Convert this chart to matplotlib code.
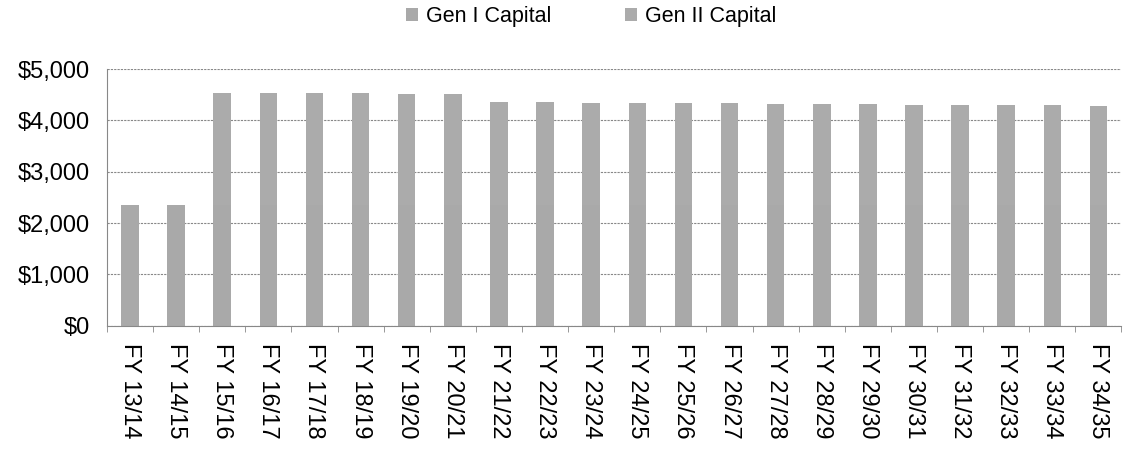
import matplotlib
matplotlib.use('Agg')
import matplotlib.pyplot as plt
import numpy as np
from matplotlib.ticker import FuncFormatter, FixedLocator

plt.rcParams['font.family'] = ['Liberation Sans', 'DejaVu Sans']

years = ['FY 13/14', 'FY 14/15', 'FY 15/16', 'FY 16/17', 'FY 17/18', 'FY 18/19',
         'FY 19/20', 'FY 20/21', 'FY 21/22', 'FY 22/23', 'FY 23/24', 'FY 24/25',
         'FY 25/26', 'FY 26/27', 'FY 27/28', 'FY 28/29', 'FY 29/30', 'FY 30/31',
         'FY 31/32', 'FY 32/33', 'FY 33/34', 'FY 34/35']
# Gen I capital (bottom) and Gen II capital (stacked on top)
gen1 = [2350, 2345, 2350, 2350, 2350, 2350, 2350, 2350, 2350, 2350, 2350,
        2350, 2350, 2350, 2350, 2350, 2350, 2350, 2350, 2350, 2350, 2350]
gen2 = [0, 0, 2190, 2185, 2180, 2175, 2170, 2155, 2010, 2000, 1995,
        1990, 1985, 1980, 1975, 1970, 1960, 1955, 1950, 1945, 1940, 1930]

fig = plt.figure(figsize=(11.26, 4.57), dpi=100)
ax = fig.add_axes([0.095, 0.287, 0.901, 0.562])

x = np.arange(len(years))
ax.bar(x, gen1, width=0.38, color='#a9a9a9', label='Gen I Capital', zorder=2)
ax.bar(x, gen2, width=0.38, bottom=gen1, color='#ababab', label='Gen II Capital', zorder=2)

ax.set_xlim(-0.5, len(years) - 0.5)
ax.set_ylim(0, 5000)
ax.set_yticks([0, 1000, 2000, 3000, 4000, 5000])
ax.yaxis.set_major_formatter(FuncFormatter(lambda v, p: '${:,.0f}'.format(v)))
ax.yaxis.grid(True, linestyle=(0, (2, 1)), color='#888888', linewidth=0.8, zorder=0)

ax.set_xticks(x)
ax.set_xticklabels(years, rotation=270, va='top', ha='center')
ax.tick_params(axis='x', which='major', length=0, pad=12, labelsize=17)
ax.xaxis.set_minor_locator(FixedLocator(np.arange(-0.5, len(years), 1)))
ax.tick_params(axis='x', which='minor', length=4, color='#888888', direction='out')
ax.tick_params(axis='y', length=0, pad=12, labelsize=17)

for s in ['top', 'right']:
    ax.spines[s].set_visible(False)
for s in ['left', 'bottom']:
    ax.spines[s].set_linestyle((0, (2, 1)))
    ax.spines[s].set_color('#888888')
    ax.spines[s].set_linewidth(0.8)

fig.legend(loc='upper center', bbox_to_anchor=(0.525, 1.03), ncol=2, frameon=False,
           fontsize=15.5, handlelength=0.55, handleheight=0.55, handletextpad=0.4,
           columnspacing=3.4)

fig.savefig('out.png', dpi=100)
